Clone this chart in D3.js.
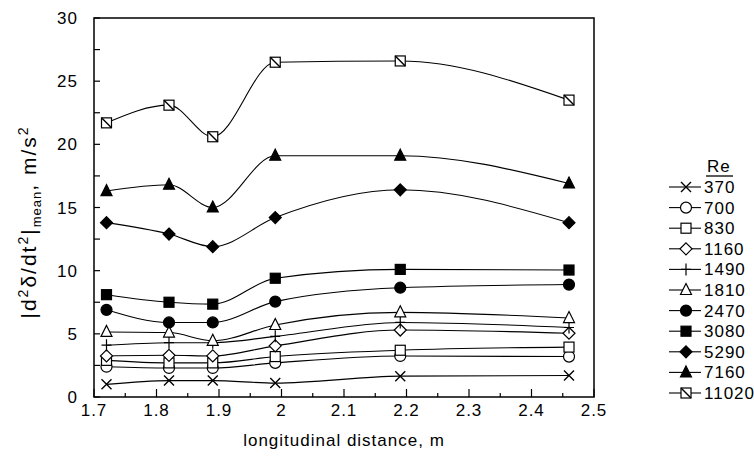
<!DOCTYPE html>
<html>
<head>
<meta charset="utf-8">
<script src="https://cdn.jsdelivr.net/npm/d3@7"></script>
<style>
  html, body { margin: 0; padding: 0; background: #fff; }
  svg { display: block; }
  text { font-family: "Liberation Sans", Arial, Helvetica, sans-serif; fill: #000; }
</style>
</head>
<body>
<svg id="chart" width="754" height="467"></svg>
<script>
// ---- data ----
const distances = [1.72, 1.82, 1.89, 1.99, 2.19, 2.46];
const reLabels = ["370", "700", "830", "1160", "1490", "1810", "2470", "3080", "5290", "7160", "11020"];
const markerTypes = ["times", "circleOpen", "squareOpen", "diamondOpen", "plus", "triangleOpen", "circle", "square", "diamond", "triangle", "squareSlash"];
const re370   = [1.0, 1.3, 1.3, 1.1, 1.65, 1.7];
const re700   = [2.4, 2.3, 2.3, 2.7, 3.25, 3.2];
const re830   = [2.9, 2.7, 2.7, 3.2, 3.7, 3.95];
const re1160  = [3.25, 3.3, 3.25, 4.05, 5.3, 5.05];
const re1490  = [4.1, 4.3, 4.3, 4.8, 5.9, 5.5];
const re1810  = [5.15, 5.1, 4.45, 5.7, 6.7, 6.25];
const re2470  = [6.9, 5.9, 5.9, 7.55, 8.65, 8.9];
const re3080  = [8.1, 7.5, 7.35, 9.4, 10.1, 10.05];
const re5290  = [13.8, 12.9, 11.9, 14.2, 16.4, 13.8];
const re7160  = [16.3, 16.8, 15.0, 19.1, 19.1, 16.9];
const re11020 = [21.7, 23.1, 20.6, 26.5, 26.6, 23.5];
const seriesValues = [re370, re700, re830, re1160, re1490, re1810, re2470, re3080, re5290, re7160, re11020];
const xTickLabels = ["1.7", "1.8", "1.9", "2", "2.1", "2.2", "2.3", "2.4", "2.5"];
const yTickLabels = ["0", "5", "10", "15", "20", "25", "30"];

// ---- layout ----
const svg = d3.select("#chart");
const x = d3.scaleLinear().domain([1.7, 2.5]).range([94, 594]);
const y = d3.scaleLinear().domain([0, 30]).range([397, 18]);

const series = reLabels.map((r, i) => ({
  re: r, type: markerTypes[i],
  points: distances.map((d, j) => ({ x: d, y: seriesValues[i][j] }))
}));

// frame
svg.append("rect")
  .attr("x", x(1.7)).attr("y", y(30))
  .attr("width", x(2.5) - x(1.7)).attr("height", y(0) - y(30))
  .attr("fill", "none").attr("stroke", "#000").attr("stroke-width", 1.5);

// x axis ticks (inward)
const xMajor = xTickLabels.map(Number);
const xMinor = d3.range(0, 8).map(i => 1.75 + i * 0.1);
const gx = svg.append("g");
gx.selectAll("line.maj").data(xMajor).join("line")
  .attr("x1", d => x(d)).attr("x2", d => x(d))
  .attr("y1", y(0)).attr("y2", y(0) - 8)
  .attr("stroke", "#000").attr("stroke-width", 1.2);
gx.selectAll("line.min").data(xMinor).join("line")
  .attr("x1", d => x(d)).attr("x2", d => x(d))
  .attr("y1", y(0)).attr("y2", y(0) - 4)
  .attr("stroke", "#000").attr("stroke-width", 1.2);
gx.selectAll("text").data(xTickLabels).join("text")
  .attr("x", d => x(+d)).attr("y", 416)
  .attr("text-anchor", "middle")
  .attr("font-size", 17).attr("letter-spacing", 1)
  .text(d => d);

// y axis ticks (inward)
const yTicks = d3.range(0, 13).map(i => i * 2.5);
const gy = svg.append("g");
gy.selectAll("line").data(yTicks).join("line")
  .attr("x1", x(1.7)).attr("x2", x(1.7) + 6)
  .attr("y1", d => y(d)).attr("y2", d => y(d))
  .attr("stroke", "#000").attr("stroke-width", 1.2);
gy.selectAll("text").data(yTickLabels).join("text")
  .attr("x", 78).attr("y", d => y(+d) + 6)
  .attr("text-anchor", "end")
  .attr("font-size", 17).attr("letter-spacing", 1)
  .text(d => d);

// axis titles
svg.append("text")
  .attr("x", 344).attr("y", 446)
  .attr("text-anchor", "middle")
  .attr("font-size", 17).attr("letter-spacing", 1)
  .text("longitudinal distance, m");

const yt = svg.append("text")
  .attr("transform", "translate(36,222) rotate(-90)")
  .attr("text-anchor", "middle")
  .attr("font-size", 21).attr("letter-spacing", 2);
yt.append("tspan").text("|d");
yt.append("tspan").attr("font-size", 14).attr("dy", -8).text("2");
yt.append("tspan").attr("dy", 8).text("δ/dt");
yt.append("tspan").attr("font-size", 14).attr("dy", -8).text("2");
yt.append("tspan").attr("dy", 8).text("|");
yt.append("tspan").attr("font-size", 13).attr("dy", 5).attr("letter-spacing", 1).text("mean");
yt.append("tspan").attr("dy", -5).text(", m/s");
yt.append("tspan").attr("font-size", 14).attr("dy", -8).text("2");

// lines
const line = d3.line().x(d => x(d.x)).y(d => y(d.y)).curve(d3.curveMonotoneX);
svg.append("g").selectAll("path").data(series).join("path")
  .attr("d", d => line(d.points))
  .attr("fill", "none").attr("stroke", "#000").attr("stroke-width", 1.1);

// markers
function drawMarker(g, type) {
  const s = 5;
  switch (type) {
    case "times":
      g.append("path").attr("d", `M${-s},${-s}L${s},${s}M${-s},${s}L${s},${-s}`)
        .attr("stroke", "#000").attr("stroke-width", 1.4).attr("fill", "none");
      break;
    case "plus":
      g.append("path").attr("d", `M0,${-s - 1}L0,${s + 1}M${-s},0L${s},0`)
        .attr("stroke", "#000").attr("stroke-width", 1.2).attr("fill", "none");
      break;
    case "circleOpen":
    case "circle":
      g.append("circle").attr("r", 5.5)
        .attr("fill", type === "circle" ? "#000" : "#fff").attr("stroke", "#000").attr("stroke-width", 1.2);
      break;
    case "squareOpen":
    case "square":
    case "squareSlash":
      g.append("rect").attr("x", -5).attr("y", -5).attr("width", 10).attr("height", 10)
        .attr("fill", type === "square" ? "#000" : "#fff").attr("stroke", "#000").attr("stroke-width", 1.2);
      if (type === "squareSlash")
        g.append("path").attr("d", "M-5,-5L5,5").attr("stroke", "#000").attr("stroke-width", 1.4);
      break;
    case "diamondOpen":
    case "diamond":
      g.append("path").attr("d", "M0,-6L6,0L0,6L-6,0Z")
        .attr("fill", type === "diamond" ? "#000" : "#fff").attr("stroke", "#000").attr("stroke-width", 1.2);
      break;
    case "triangleOpen":
    case "triangle":
      g.append("path").attr("d", "M0,-6.5L5.5,4.5L-5.5,4.5Z")
        .attr("fill", type === "triangle" ? "#000" : "#fff").attr("stroke", "#000").attr("stroke-width", 1.2);
      break;
  }
}

const gm = svg.append("g");
series.forEach(s => {
  s.points.forEach(p => {
    const g = gm.append("g").attr("transform", `translate(${x(p.x)},${y(p.y)})`);
    drawMarker(g, s.type);
  });
});

// legend
const legY0 = 187, legStep = 20.6;
const lg = svg.append("g");
lg.append("text").attr("x", 707).attr("y", 172).attr("font-size", 17).attr("letter-spacing", 1).text("Re");
lg.append("line").attr("x1", 706).attr("x2", 733).attr("y1", 176).attr("y2", 176)
  .attr("stroke", "#000").attr("stroke-width", 1.3);
series.forEach((s, i) => {
  const yy = legY0 + i * legStep;
  lg.append("line").attr("x1", 669).attr("x2", 701).attr("y1", yy).attr("y2", yy)
    .attr("stroke", "#000").attr("stroke-width", 1.1);
  const g = lg.append("g").attr("transform", `translate(686,${yy})`);
  drawMarker(g, s.type);
  lg.append("text").attr("x", 704).attr("y", yy + 6)
    .attr("font-size", 17).attr("letter-spacing", 1).text(s.re);
});
</script>
</body>
</html>
